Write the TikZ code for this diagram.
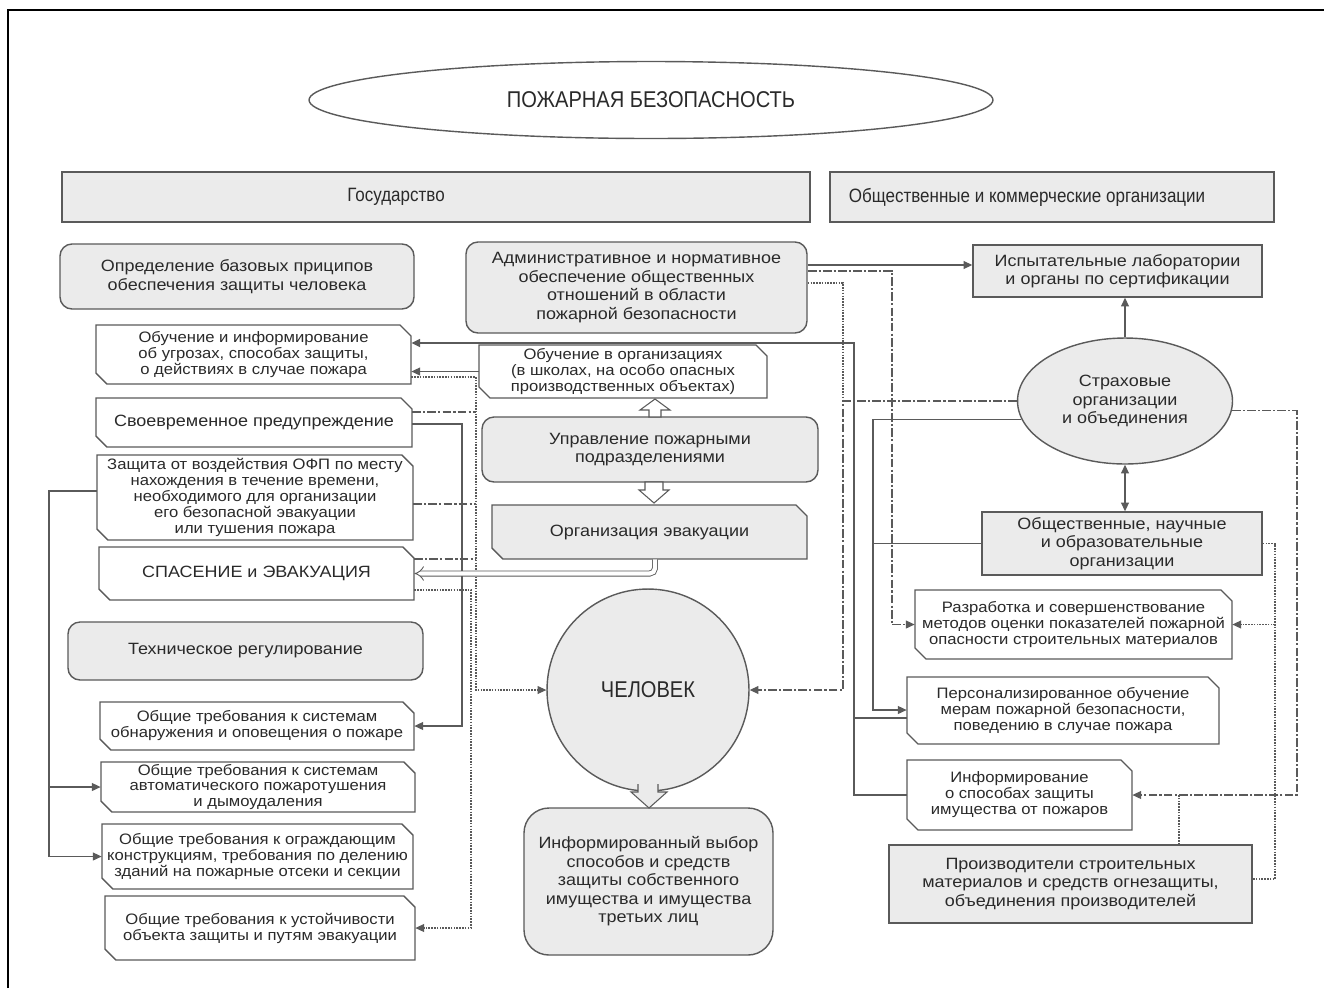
\documentclass[tikz,border=0pt]{standalone}
\usepackage{fontspec}
\setmainfont{Liberation Sans}[FakeStretch=1.1]
\newfontfamily\narrowf{Liberation Sans}[FakeStretch=0.88]
\usetikzlibrary{shapes.geometric,arrows.meta,calc}
\definecolor{boxgray}{HTML}{EBEBEB}
\definecolor{linegray}{HTML}{5A5A5A}
\definecolor{txtgray}{HTML}{2A2A2A}
\newcommand\fsmall{\fontsize{8.6}{9.1}\selectfont}
\newcommand\flarge{\fontsize{9.3}{10.5}\selectfont}
\newcommand\fhead{\narrowf\fontsize{11}{13}\selectfont}
\newcommand\fbig{\narrowf\fontsize{13}{15}\selectfont}
\tikzset{
  fr/.style={draw=linegray, line width=0.8pt},
  rbox/.style={fr, fill=boxgray, rounded corners=0.24cm, inner sep=0pt, align=center, font=\flarge, text=txtgray},
  sbox/.style={fr, fill=boxgray, inner sep=0pt, align=center, font=\flarge, text=txtgray},
  tnode/.style={inner sep=0pt, align=center, text=txtgray},
  con/.style={draw=linegray, line width=0.7pt},
  arr/.style={-{Triangle[length=5pt,width=4.5pt]}},
  dd/.style={con, dash pattern=on 5pt off 1.2pt on 1.2pt off 1.2pt},
  dt/.style={con, line width=0.6pt, dash pattern=on 0.9pt off 0.7pt},
  blk/.style={draw=linegray, line width=0.6pt},
}
% box node: style, name, x1, y1, x2, y2, text
\newcommand\bxn[7]{%
  \node[#1, minimum width={(#5-#3)*0.02cm}, minimum height={(#6-#4)*0.02cm}] (#2) at ({(#3+#5)/2},{(#4+#6)/2}) {#7};}
% chamfered box: name, x1, y1, x2, y2, fill, font, text
\newcommand\chb[8]{%
  \draw[fr, fill=#6] (#2,#3) -- ({#4-11},#3) -- (#4,{#3+11}) -- (#4,#5) -- ({#2+11},#5) -- (#2,{#5-11}) -- cycle;
  \bxn{tnode, font=#7}{#1}{#2}{#3}{#4}{#5}{#8}}
\begin{document}
\begin{tikzpicture}[x=0.02cm, y=-0.02cm]
\useasboundingbox (0,0) rectangle (1324,988);
\fill[white] (0,0) rectangle (1324,988);
\draw[black, line width=1pt] (8,988) -- (8,10) -- (1324,10);

% title and headers
\node[fr, ellipse, fill=white, minimum width=13.68cm, minimum height=1.54cm, inner sep=0pt, font=\fbig, text=txtgray] (title) at (651,100) {ПОЖАРНАЯ БЕЗОПАСНОСТЬ};
\bxn{sbox, font=\fhead}{gos}{62}{172}{810}{222}{\hspace*{-1.6cm}Государство}
\bxn{sbox, font=\fhead}{obk}{830}{172}{1274}{222}{\hspace*{-1cm}Общественные и коммерческие организации}

% left column
\bxn{rbox}{opr}{60}{244}{414}{309}{Определение базовых приципов\\обеспечения защиты человека}
\chb{obi}{96}{325}{411}{384}{white}{\fsmall}{Обучение и информирование\\об угрозах, способах защиты,\\о действиях в случае пожара}
\chb{svp}{96}{398}{412}{447}{white}{\flarge}{Своевременное предупреждение}
\chb{zash}{97}{455}{413}{540}{white}{\fsmall}{Защита от воздействия ОФП по месту\\нахождения в течение времени,\\необходимого для организации\\его безопасной эвакуации\\или тушения пожара}
\chb{spas}{99}{547}{414}{600}{white}{\flarge}{СПАСЕНИЕ и ЭВАКУАЦИЯ}
\bxn{rbox}{teh}{68}{622}{423}{680}{Техническое регулирование}
\chb{obn}{100}{702}{414}{750}{white}{\fsmall}{Общие требования к системам\\обнаружения и оповещения о пожаре}
\chb{avt}{101}{762}{415}{812}{white}{\fsmall}{Общие требования к системам\\автоматического пожаротушения\\и дымоудаления}
\chb{ogr}{102}{824}{413}{889}{white}{\fsmall}{Общие требования к ограждающим\\конструкциям, требования по делению\\зданий на пожарные отсеки и секции}
\chb{ust}{105}{896}{415}{960}{white}{\fsmall}{Общие требования к устойчивости\\объекта защиты и путям эвакуации}

% middle column
\bxn{rbox}{adm}{466}{242}{807}{333}{Административное и нормативное\\обеспечение общественных\\отношений в области\\пожарной безопасности}
\chb{obo}{479}{345}{767}{398}{white}{\fsmall}{Обучение в организациях\\(в школах, на особо опасных\\производственных объектах)}
\bxn{rbox}{upr}{482}{417}{818}{482}{Управление пожарными\\подразделениями}
\chb{org}{492}{505}{807}{559}{boxgray}{\flarge}{Организация эвакуации}
\node[fr, circle, fill=boxgray, minimum size=4.04cm, inner sep=0pt, font=\fbig, text=txtgray] (chel) at (648,690) {ЧЕЛОВЕК};
\bxn{rbox, rounded corners=0.5cm}{vyb}{524}{808}{773}{955}{Информированный выбор\\способов и средств\\защиты собственного\\имущества и имущества\\третьих лиц}

% right column
\bxn{sbox}{lab}{973}{245}{1262}{297}{Испытательные лаборатории\\и органы по сертификации}
\node[fr, ellipse, fill=boxgray, minimum width=4.3cm, minimum height=2.52cm, inner sep=0pt, align=center, font=\flarge, text=txtgray] (str) at (1125,401) {Страховые\\организации\\и объединения};
\bxn{sbox}{obsh}{982}{512}{1262}{575}{Общественные, научные\\и образовательные\\организации}
\chb{raz}{915}{590}{1232}{659}{white}{\fsmall}{Разработка и совершенствование\\методов оценки показателей пожарной\\опасности строительных материалов}
\chb{pers}{907}{677}{1219}{744}{white}{\fsmall}{Персонализированное обучение\\мерам пожарной безопасности,\\поведению в случае пожара}
\chb{inf}{907}{760}{1132}{830}{white}{\fsmall}{Информирование\\о способах защиты\\имущества от пожаров}
\bxn{sbox}{prod}{889}{845}{1252}{923}{Производители строительных\\материалов и средств огнезащиты,\\объединения производителей}

% block arrows
\draw[blk, fill=white] (649,417) -- (649,410) -- (640,410) -- (655,399) -- (670,410) -- (661,410) -- (661,417) -- cycle;
\draw[blk, fill=white] (645,482) -- (645,490) -- (639,490) -- (654,503) -- (669,490) -- (663,490) -- (663,482) -- cycle;
\draw[blk, fill=boxgray] (638,784) -- (638,792) -- (631,792) -- (649,808) -- (667,792) -- (658,792) -- (658,784);

% right connectors
\draw[con, arr] (adm.east |- 0,265) -- (lab.west |- 0,265);
\draw[con, arr] (str.north) -- (str.north |- lab.south);
\draw[con, {Triangle[length=5pt,width=4.5pt]}-{Triangle[length=5pt,width=4.5pt]}] (str.south) -- (str.south |- obsh.north);
\draw[dd, arr] (adm.east |- 0,271) -- (892,271) -- (892,624.5) -- (raz.west);
\draw[dt] (adm.east |- 0,283) -- (843,283) -- (843,401);
\draw[dd, arr] (str.west) -| (843,690) -- (chel.east);
\draw[con, arr] (str.190) -| (873,710) -- (pers.west |- 0,710);
\draw[con] (obsh.west) -- (obsh.west -| 873,0);
\draw[dd, arr] (str.-5) -| (1297,795) -- (inf.east);
\draw[dt] (prod.north -| 1179,0) -- (1179,795);
\draw[dt] (obsh.east) -| (1275,879) -- (prod.east |- 0,879);
\draw[dt, arr] (raz.east -| 1275,0) -- (raz.east);
\draw[con, line width=1.1pt, arr] (inf.west) -- (854,795) -- (854,343) -- (obi.east |- 0,343);
\draw[con] (pers.west |- 0,718) -- (854,718);

% left connectors
\draw[con, arr] (obo.west) -- (obo.west -| obi.east);
\draw[dt, arr] (obi.east |- 0,377) -- (476,377) -- (476,690) -- (chel.west);
\draw[dd] (svp.east |- 0,412) -- (476,412);
\draw[con, arr] (svp.east |- 0,424) -| (462,726) -- (obn.east);
\draw[dd] (zash.east |- 0,504) -- (476,504);
\draw[dd] (spas.east |- 0,559) -- (476,559);
\draw[dt, arr] (spas.east |- 0,590) -| (471,928) -- (ust.east);
\draw[draw=linegray, line width=0.5pt, double=white, double distance=2.4pt, rounded corners=3pt, -{Implies}] (org.south -| 655,0) -- (655,573.5) -- (spas.east);
\draw[con, arr] (zash.west |- 0,491) -- (49,491) -- (49,856.5) -- (ogr.west);
\draw[con, arr] (49,787) -- (avt.west);
\end{tikzpicture}
\end{document}
